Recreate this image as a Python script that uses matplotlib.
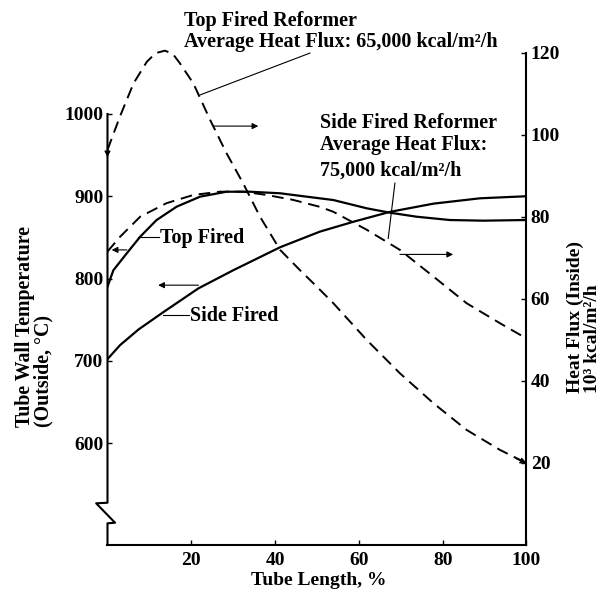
import matplotlib.pyplot as plt
import matplotlib.transforms as mtransforms

plt.rcParams['font.family'] = 'Liberation Serif'
plt.rcParams['font.weight'] = 'bold'

# ---------------------------------
# DATA
# ---------------------------------

# heat flux, top fired (right axis, 10^3 kcal/m2/h)
x_top_flux = [0, 3.0, 6.2, 9.4, 11.5, 13.7, 15.6, 17.3, 20.5, 24.5, 28.4, 32.4, 36.4,
              41.2, 45.9, 49.9, 53.9, 61.9, 69.8, 77.8, 85.7, 93.7, 100]
top_flux = [96.3, 104.5, 112.5, 117.8, 119.9, 120.5, 119.7, 117.4, 112.5, 103.6, 95.5, 88.1, 80.0,
            71.9, 67.0, 63.0, 58.9, 49.9, 41.8, 34.5, 28.0, 23.1, 19.9]

# heat flux, side fired (right axis)
x_side_flux = [0, 3.0, 7.8, 14.1, 20.5, 26.8, 32.4, 38.0, 44.3, 50.7, 53.9,
               61.9, 69.8, 77.8, 85.7, 93.7, 100]
side_flux = [71.5, 75.1, 80.0, 83.3, 85.3, 86.1, 86.1, 85.3, 84.1, 82.4, 81.2,
             76.8, 71.9, 65.4, 58.9, 54.0, 50.3]

# tube wall temperature, top fired (left axis, C)
x_top_temp = [0, 1.4, 4.6, 7.8, 11.7, 16.5, 22.1, 28.4, 34.0, 41.2, 47.5,
              53.9, 61.9, 67.4, 73.8, 81.7, 89.7, 100]
top_temp = [790, 810, 830.6, 850.8, 871, 887.3, 899.5, 905.5, 905.5, 903.6, 899.5,
            895.4, 885.3, 880, 875.1, 871.1, 870.3, 871.1]

# tube wall temperature, side fired (left axis)
x_side_temp = [0, 3.0, 7.4, 13.3, 21.7, 30.0, 41.2, 50.7, 58.7, 67.4, 77.8, 88.9, 100]
side_temp = [702, 719, 738, 759, 788, 810, 838, 857, 869, 881, 891, 897.5, 900]

x_ticks = [20, 40, 60, 80, 100]
temp_ticks = [600, 700, 800, 900, 1000]
flux_ticks = [20, 40, 60, 80, 100, 120]

# ---------------------------------
# PLOT
# ---------------------------------

fig = plt.figure(figsize=(6.09, 6.03), dpi=100)
ax = fig.add_axes([0.1765, 0.0967, 0.688, 0.8159])
ax2 = ax.twinx()

ax.plot(x_top_temp, top_temp, color='black', lw=1.6)
ax.plot(x_side_temp, side_temp, color='black', lw=1.6)
ax2.plot(x_top_flux, top_flux, color='black', lw=1.4, dashes=(6, 3.5), clip_on=False)
ax2.plot(x_side_flux, side_flux, color='black', lw=1.4, dashes=(6, 3.5))

ax.set_xlim(0, 100)
ax.set_ylim(476.4, 1074.5)
ax2.set_ylim(0, 120)

ax.set_xticks(x_ticks)
ax.set_yticks(temp_ticks)
ax2.set_yticks(flux_ticks)
ax.tick_params(axis='both', direction='in', length=3.6, width=1, labelsize=14, pad=3)
ax.tick_params(axis='x', pad=5)
ax2.tick_params(axis='y', direction='in', length=3.6, width=1, labelsize=14, pad=3)

for s in ['top', 'right', 'left']:
    ax.spines[s].set_visible(False)
for s in ['top', 'left', 'bottom']:
    ax2.spines[s].set_visible(False)
ax.spines['bottom'].set_linewidth(1.5)
ax2.spines['right'].set_linewidth(1.5)

# left spine with the axis break
trans = mtransforms.blended_transform_factory(ax.transAxes, ax.transData)
ax.plot([0, 0, -0.027, 0.018, 0, 0], [1000, 527.4, 526.7, 503.1, 502.4, 476.4],
        color='black', lw=1.5, transform=trans, clip_on=False)

# annotations
ax2.text(18.3, 126.5, 'Top Fired Reformer', fontsize=14.5, va='baseline')
ax2.text(18.3, 121.5, 'Average Heat Flux: 65,000 kcal/m²/h', fontsize=14.5, va='baseline')
ax2.plot([48.3, 22.1], [119.9, 109.7], color='black', lw=0.8, clip_on=False)

ax2.text(50.7, 101.6, 'Side Fired Reformer', fontsize=14.5, va='baseline')
ax2.text(50.7, 96.3, 'Average Heat Flux:', fontsize=14.5, va='baseline')
ax2.text(50.7, 90.0, '75,000 kcal/m²/h', fontsize=14.5, va='baseline')
ax2.plot([68.6, 67.0], [88.2, 74.7], color='black', lw=0.8)

ax2.text(12.5, 73.5, 'Top Fired', fontsize=14.5, va='baseline')
ax2.plot([7.4, 12.3], [75.1, 75.1], color='black', lw=0.8)
ax2.text(19.7, 54.6, 'Side Fired', fontsize=14.5, va='baseline')
ax2.plot([13.3, 19.4], [56.0, 56.0], color='black', lw=0.8)

arrow = dict(arrowstyle='-|>', color='black', lw=0.8, mutation_scale=9, shrinkA=0, shrinkB=0)
ax2.annotate('', xy=(36.0, 102.1), xytext=(25.3, 102.1), arrowprops=arrow)
ax2.annotate('', xy=(82.5, 70.8), xytext=(69.8, 70.8), arrowprops=arrow)
ax2.annotate('', xy=(12.1, 63.3), xytext=(21.7, 63.3), arrowprops=arrow)
ax2.annotate('', xy=(1.0, 71.9), xytext=(4.6, 71.9), arrowprops=arrow)
ax2.annotate('', xy=(0, 94.5), xytext=(0, 97.5), arrowprops=arrow, annotation_clip=False)
ax2.annotate('', xy=(100, 19.9), xytext=(97.5, 21.0), arrowprops=arrow, annotation_clip=False)

fig.text(319 / 609, 0.0299, 'Tube Length, %', fontsize=14, ha='center', va='baseline')
fig.text(34 / 609, 0.2919, 'Tube Wall Temperature\n(Outside, °C)', fontsize=14.3,
         rotation=90, ha='center', va='bottom', multialignment='left', linespacing=0.9)
fig.text(584 / 609, 0.348, 'Heat Flux (Inside)\n10³ kcal/m²/h', fontsize=14,
         rotation=90, ha='center', va='bottom', multialignment='left', linespacing=0.95)

plt.savefig('out.png', dpi=100)
